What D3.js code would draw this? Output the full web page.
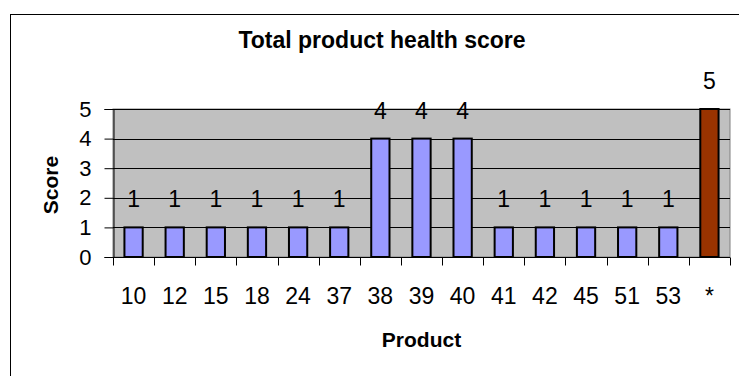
<!DOCTYPE html>
<html>
<head>
<meta charset="utf-8">
<script src="https://cdn.jsdelivr.net/npm/d3@7"></script>
<style>
  html, body { margin: 0; padding: 0; background: #fff; }
  svg { display: block; font-family: "Liberation Sans", Arial, sans-serif; }
</style>
</head>
<body>
<svg id="chart" width="739" height="376"></svg>
<script>
// Product health scores
const products = ["10", "12", "15", "18", "24", "37", "38", "39", "40", "41", "42", "45", "51", "53", "*"];
const scores   = [1, 1, 1, 1, 1, 1, 4, 4, 4, 1, 1, 1, 1, 1, 5];
const yTicks   = [0, 1, 2, 3, 4, 5];
const highlight = "*";

const svg = d3.select("#chart");
const W = 739, H = 376;

// chart frame
svg.append("rect").attr("x", 0).attr("y", 0).attr("width", W).attr("height", H).attr("fill", "#fff");
svg.append("rect")
  .attr("x", 10.5).attr("y", 14.5).attr("width", 760).attr("height", 400)
  .attr("fill", "#fff").attr("stroke", "#000").attr("stroke-width", 1);

const plot = { left: 113, right: 730, top: 109, bottom: 257 };

const x = d3.scaleBand().domain(products).range([plot.left, plot.right]).paddingInner(0).paddingOuter(0);
const y = d3.scaleLinear().domain([0, 5]).range([plot.bottom, plot.top]);

// plot area
svg.append("rect")
  .attr("x", plot.left).attr("y", plot.top)
  .attr("width", plot.right - plot.left).attr("height", plot.bottom - plot.top)
  .attr("fill", "#c0c0c0").attr("stroke", "#808080").attr("stroke-width", 1);

// gridlines
svg.append("g").selectAll("line").data(yTicks.filter(d => d > 0)).join("line")
  .attr("x1", plot.left).attr("x2", plot.right)
  .attr("y1", d => Math.round(y(d)) + 0.5).attr("y2", d => Math.round(y(d)) + 0.5)
  .attr("stroke", "#000").attr("stroke-width", 1);

// bars
const barW = x.bandwidth() / 2.25;
svg.append("g").selectAll("rect").data(products).join("rect")
  .attr("x", (d) => x(d) + (x.bandwidth() - barW) / 2)
  .attr("y", (d, i) => y(scores[i]))
  .attr("width", barW)
  .attr("height", (d, i) => y(0) - y(scores[i]))
  .attr("fill", d => d === highlight ? "#993300" : "#9999ff")
  .attr("stroke", "#000").attr("stroke-width", 2);

// y axis
const yAxis = svg.append("g")
  .attr("transform", `translate(${plot.left + 0.5},0)`)
  .call(d3.axisLeft(y).tickValues(yTicks).tickFormat(d3.format("d")).tickSize(9).tickPadding(13));
yAxis.select(".domain").attr("stroke", "#000");
yAxis.selectAll(".tick line").attr("stroke", "#000");
yAxis.selectAll("text").attr("font-size", 22).attr("fill", "#000").attr("font-family", "Liberation Sans, Arial, sans-serif");

// x axis with ticks between categories
const xAxisG = svg.append("g").attr("transform", `translate(0,${plot.bottom + 0.5})`);
xAxisG.append("line").attr("x1", plot.left).attr("x2", plot.right).attr("stroke", "#000");
xAxisG.selectAll("line.sep").data(d3.range(products.length + 1)).join("line")
  .attr("class", "sep")
  .attr("x1", i => Math.round(plot.left + i * x.step()) + 0.5)
  .attr("x2", i => Math.round(plot.left + i * x.step()) + 0.5)
  .attr("y1", 0).attr("y2", 8).attr("stroke", "#000");
xAxisG.selectAll("text").data(products).join("text")
  .attr("x", d => x(d) + x.bandwidth() / 2)
  .attr("y", 46)
  .attr("text-anchor", "middle")
  .attr("font-size", 23)
  .text(d => d);

// value labels
svg.append("g").selectAll("text").data(products).join("text")
  .attr("x", d => x(d) + x.bandwidth() / 2)
  .attr("y", (d, i) => y(scores[i]) - 20)
  .attr("text-anchor", "middle")
  .attr("font-size", 23)
  .text((d, i) => scores[i]);

// titles
svg.append("text").attr("x", 382).attr("y", 48).attr("text-anchor", "middle")
  .attr("font-size", 23).attr("font-weight", "bold").text("Total product health score");
svg.append("text").attr("x", (plot.left + plot.right) / 2).attr("y", 347).attr("text-anchor", "middle")
  .attr("font-size", 21).attr("font-weight", "bold").text("Product");
svg.append("text").attr("transform", `translate(58,${(plot.top + plot.bottom) / 2 + 2}) rotate(-90)`)
  .attr("text-anchor", "middle")
  .attr("font-size", 21).attr("font-weight", "bold").text("Score");
</script>
</body>
</html>
